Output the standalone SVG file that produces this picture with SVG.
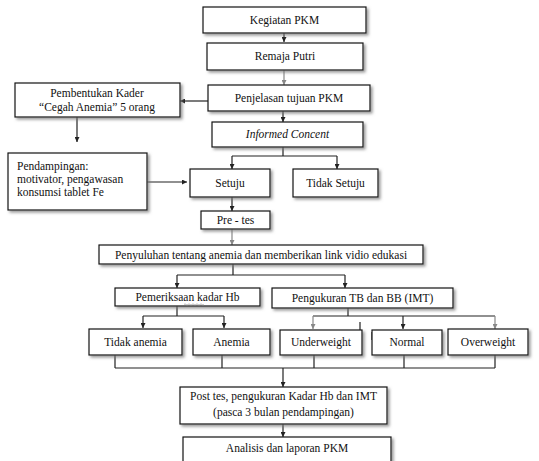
<svg xmlns="http://www.w3.org/2000/svg" width="539" height="461" viewBox="0 0 539 461">
<style>
.b{fill:#fff;stroke:#111;stroke-width:1.2;filter:url(#sh)}
.t{font-family:'Liberation Serif','Times New Roman','DejaVu Serif',serif;font-size:11.5px;fill:#111;text-anchor:middle}
.l{text-anchor:start}
.c{fill:none;stroke:#222;stroke-width:1.2}
.g{stroke:#888}
</style>
<defs>
<filter id="sh" x="-10%" y="-30%" width="120%" height="170%">
<feDropShadow dx="2" dy="2" stdDeviation="1.4" flood-color="#777" flood-opacity="0.75"/>
</filter>
<marker id="a" viewBox="0 0 6 6" refX="6" refY="3" markerWidth="5" markerHeight="5" orient="auto" markerUnits="userSpaceOnUse">
<path d="M0,0L6,3L0,6z" fill="#222"/>
</marker>
<marker id="ag" viewBox="0 0 6 6" refX="6" refY="3" markerWidth="5" markerHeight="5" orient="auto" markerUnits="userSpaceOnUse">
<path d="M0,0L6,3L0,6z" fill="#888"/>
</marker>
</defs>
<rect width="539" height="461" fill="#fff"/>
<g id="connectors">
<path class="c" d="M284,33V42" marker-end="url(#a)"/>
<path class="c g" d="M284,70V85" marker-end="url(#ag)"/>
<path class="c" d="M208,101H180" marker-end="url(#a)"/>
<path class="c" d="M77,117V142" marker-end="url(#a)"/>
<path class="c" d="M283,111V122" marker-end="url(#a)"/>
<path class="c" d="M283,147V156M232,156H337"/>
<path class="c" d="M232,156V169" marker-end="url(#a)"/>
<path class="c" d="M337,156V169" marker-end="url(#a)"/>
<path class="c" d="M147,182H187" marker-end="url(#a)"/>
<path class="c" d="M232,197V211" marker-end="url(#a)"/>
<path class="c g" d="M232,229V245" marker-end="url(#ag)"/>
<path class="c" d="M233,264V275M177,275H345"/>
<path class="c" d="M177,275V288" marker-end="url(#a)"/>
<path class="c" d="M345,275V288" marker-end="url(#a)"/>
<path class="c" d="M177,306V316M143,316H224"/>
<path class="c" d="M143,316V328" marker-end="url(#a)"/>
<path class="c" d="M224,316V328" marker-end="url(#a)"/>
<path class="c" d="M348,308V316M313,316H495"/>
<path class="c g" d="M313,316V329" marker-end="url(#ag)"/>
<path class="c" d="M403,316V329" marker-end="url(#a)"/>
<path class="c g" d="M495,316V329" marker-end="url(#ag)"/>
<path class="c" d="M360,322V330M372,332V340"/>
<path class="c" d="M115,355V368M222,355V368M314,355V368M404,355V368M495,355V368M115,368H495"/>
<path class="c" d="M283,368V387" marker-end="url(#a)"/>
<path class="c" d="M283,424V437" marker-end="url(#a)"/>
</g>
<g id="n1"><rect class="b" x="203" y="7" width="163" height="26"/><text class="t" x="284.5" y="24">Kegiatan PKM</text></g>
<g id="n2"><rect class="b" x="207" y="43" width="156" height="27"/><text class="t" x="285" y="60">Remaja Putri</text></g>
<g id="n3"><rect class="b" x="208" y="85" width="162" height="26"/><text class="t" x="289" y="102">Penjelasan tujuan PKM</text></g>
<g id="n4"><rect class="b" x="15" y="83" width="165" height="34"/><text class="t" x="97" y="97">Pembentukan Kader</text><text class="t" x="97" y="111">“Cegah Anemia” 5 orang</text></g>
<g id="n5"><rect class="b" x="212" y="122" width="151" height="25"/><text class="t" x="287.5" y="138" font-style="italic">Informed Concent</text></g>
<g id="n6"><rect class="b" x="8" y="153" width="139" height="57"/><text class="t l" x="17" y="170">Pendampingan:</text><text class="t l" x="17" y="183">motivator, pengawasan</text><text class="t l" x="17" y="196">konsumsi tablet Fe</text></g>
<g id="n7"><rect class="b" x="190" y="169" width="80" height="28"/><text class="t" x="230" y="187">Setuju</text></g>
<g id="n8"><rect class="b" x="293" y="169" width="85" height="28"/><text class="t" x="335.5" y="187">Tidak Setuju</text></g>
<g id="n9"><rect class="b" x="201" y="211" width="69" height="18"/><text class="t" x="235.5" y="224">Pre - tes</text></g>
<g id="n10"><rect class="b" x="99" y="245" width="324" height="19"/><text class="t" x="261" y="259">Penyuluhan tentang anemia dan memberikan link vidio edukasi</text></g>
<g id="n11"><rect class="b" x="115" y="288" width="145" height="18"/><text class="t" x="187.5" y="301">Pemeriksaan kadar Hb</text><path d="M184,304.5q1,-1.2 2,0t2,0t2,0t2,0t2,0t2,0t2,0t2,0t2,0t2,0" fill="none" stroke="#999" stroke-width="0.7"/></g>
<g id="n12"><rect class="b" x="272" y="288" width="181" height="20"/><text class="t" x="362.5" y="302">Pengukuran TB dan BB (IMT)</text></g>
<g id="n13"><rect class="b" x="89" y="329" width="93" height="26"/><text class="t" x="135.5" y="346">Tidak anemia</text></g>
<g id="n14"><rect class="b" x="193" y="329" width="77" height="26"/><text class="t" x="231.5" y="346">Anemia</text></g>
<g id="n15"><rect class="b" x="280" y="330" width="82" height="25"/><text class="t" x="321" y="346">Underweight</text></g>
<g id="n16"><rect class="b" x="372" y="330" width="70" height="25"/><text class="t" x="407" y="346">Normal</text></g>
<g id="n17"><rect class="b" x="448" y="329" width="80" height="26"/><text class="t" x="488" y="346">Overweight</text></g>
<g id="n18"><rect class="b" x="180" y="387" width="207" height="37"/><text class="t" x="283.5" y="400">Post tes, pengukuran Kadar Hb dan IMT</text><text class="t" x="283.5" y="416">(pasca 3 bulan pendampingan)</text></g>
<g id="n19"><rect class="b" x="183" y="437" width="208" height="30"/><text class="t" x="287" y="452">Analisis dan laporan PKM</text></g>
</svg>
